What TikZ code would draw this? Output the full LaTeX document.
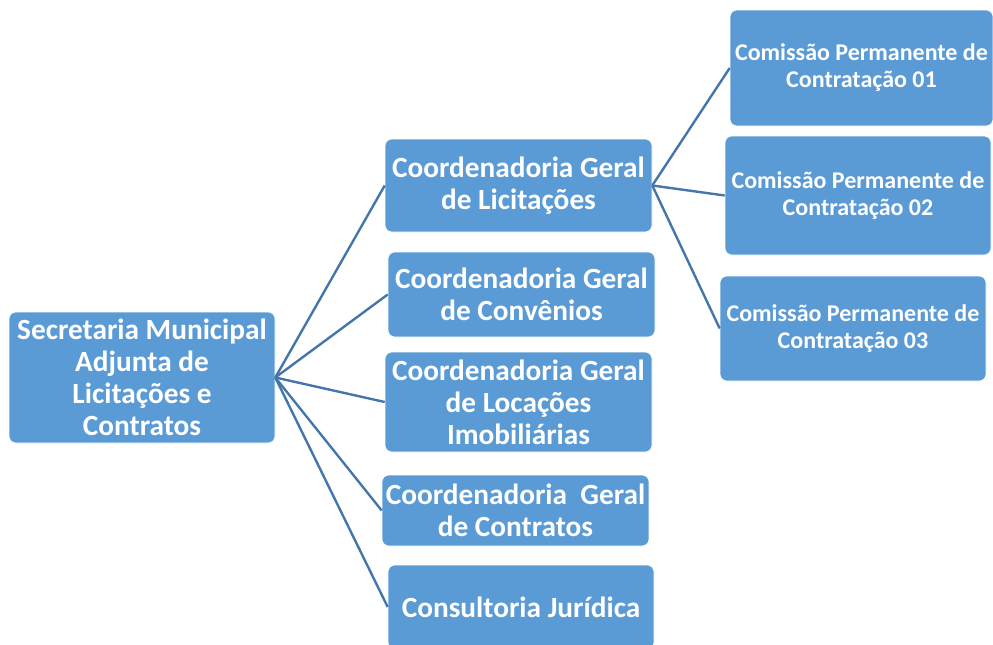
\documentclass[tikz,border=0pt]{standalone}
\usepackage{fontspec}
\setmainfont{Carlito}
\definecolor{boxblue}{HTML}{5B9BD5}
\definecolor{linkblue}{HTML}{4576AB}
\tikzset{
  unit/.style={fill=boxblue,draw=white,line width=0.6pt,rounded corners=7pt,
    text=white,font=\bfseries,align=center,inner sep=0pt},
  big/.style={unit,font=\fontsize{29.3}{32}\selectfont\bfseries},
  small/.style={unit,font=\fontsize{24}{27}\selectfont\bfseries},
  link/.style={draw=linkblue,line width=2.4pt}
}
\begin{document}
\begin{tikzpicture}[x=1pt,y=-1pt]
\useasboundingbox(0,0)rectangle(993,645);
\clip(0,0)rectangle(993,645);
% root
\node[big,minimum width=266,minimum height=131](root)at(142,377.5)
  {Secretaria Municipal\\Adjunta de\\Licitações e\\Contratos};
% second level
\node[big,minimum width=267,minimum height=93](licit)at(518.5,185.5)
  {Coordenadoria Geral\\de Licitações};
\node[big,minimum width=267,minimum height=85](conv)at(521.5,294.5)
  {Coordenadoria Geral\\de Convênios};
\node[big,minimum width=267,minimum height=100](locac)at(518.5,402)
  {Coordenadoria Geral\\de Locações\\Imobiliárias};
\node[big,minimum width=267,minimum height=71](contr)at(515.5,510.5)
  {Coordenadoria~ Geral\\de Contratos};
\node[big,minimum width=266,minimum height=84](consult)at(521,607)
  {Consultoria Jurídica};
% third level
\node[small,minimum width=263,minimum height=116](cpc1)at(861.5,68)
  {Comissão Permanente de\\Contratação 01};
\node[small,minimum width=266,minimum height=119](cpc2)at(858,195.5)
  {Comissão Permanente de\\Contratação 02};
\node[small,minimum width=266,minimum height=105](cpc3)at(853,328.5)
  {Comissão Permanente de\\Contratação 03};
% connectors
\foreach \n in {licit,conv,locac,contr,consult}
  \draw[link](root.east)--(\n.west);
\foreach \n in {cpc1,cpc2,cpc3}
  \draw[link](licit.east)--(\n.west);
\end{tikzpicture}
\end{document}
